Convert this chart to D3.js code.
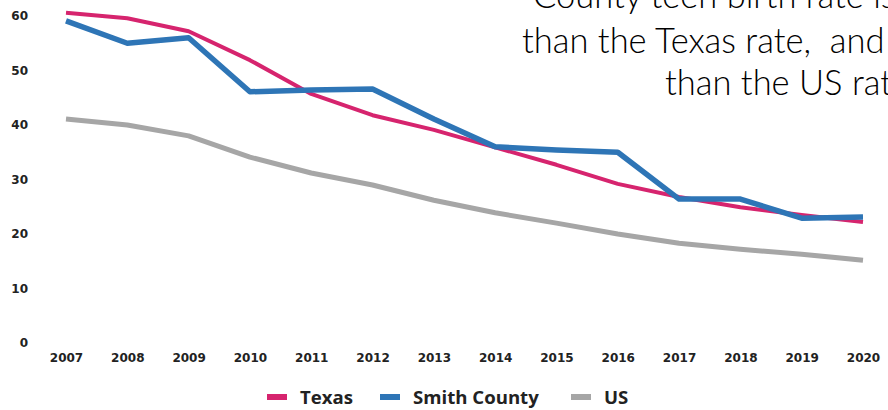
<!DOCTYPE html>
<html>
<head>
<meta charset="utf-8">
<script src="https://d3js.org/d3.v7.min.js"></script>
<style>
  body { margin: 0; background: #fff; overflow: hidden; }
  svg { display: block; }
</style>
</head>
<body>
<svg width="888" height="410"></svg>
<script>
// Data
const years = [2007, 2008, 2009, 2010, 2011, 2012, 2013, 2014, 2015, 2016, 2017, 2018, 2019, 2020];
const texas = [60.6, 59.6, 57.2, 51.9, 45.7, 41.8, 39.1, 35.9, 32.7, 29.2, 26.8, 24.9, 23.5, 22.2];
const smith = [59.1, 55.0, 56.0, 46.1, 46.4, 46.6, 41.1, 36.0, 35.4, 35.0, 26.4, 26.4, 22.9, 23.1];
const us = [41.1, 40.0, 38.0, 34.1, 31.2, 29.0, 26.2, 23.9, 22.0, 20.0, 18.3, 17.2, 16.3, 15.2];
const yTicks = [0, 10, 20, 30, 40, 50, 60];
const seriesNames = ["Texas", "Smith County", "US"];
const titleLines = ["County teen birth rate is", "than the Texas rate,  and", "than the US rate"];

const svg = d3.select("svg"),
  width = +svg.attr("width"),
  height = +svg.attr("height");

const colors = { "Texas": "#d6246e", "Smith County": "#2e75b6", "US": "#a6a6a6" };
const widths = { "Texas": 4, "Smith County": 5.5, "US": 5 };

// Scales
const x = d3.scalePoint().domain(years).range([66, 863]);
const y = d3.scaleLinear().domain([0, 60]).range([343, 16]);

// title text (clipped by the frame like the source)
const titleX = [533, 522, 665];
const titleY = [8, 53, 95];
svg.selectAll(".title")
  .data(titleLines)
  .join("text")
  .attr("class", "title")
  .attr("x", (d, i) => titleX[i])
  .attr("y", (d, i) => titleY[i])
  .style("font-family", "Lato, 'Open Sans', sans-serif")
  .style("font-weight", 300)
  .style("font-size", "34.5px")
  .style("white-space", "pre")
  .attr("fill", "#000")
  .text(d => d);

// Y axis
const yAxis = svg.append("g")
  .attr("transform", "translate(28,0)")
  .call(d3.axisLeft(y).tickValues(yTicks).tickSize(0).tickPadding(0));
yAxis.select(".domain").remove();
yAxis.selectAll("text")
  .style("font-family", "'DejaVu Sans', sans-serif")
  .style("font-weight", "bold")
  .style("font-size", "12px")
  .attr("fill", "#222");

// X axis
const xAxis = svg.append("g")
  .attr("transform", "translate(0,353)")
  .call(d3.axisBottom(x).tickSize(0).tickPadding(0));
xAxis.select(".domain").remove();
xAxis.selectAll("text")
  .style("font-family", "'DejaVu Sans', sans-serif")
  .style("font-weight", "bold")
  .style("font-size", "12px")
  .attr("fill", "#222");

// Lines
const line = d3.line()
  .x((d, i) => x(years[i]))
  .y(d => y(d));

const series = [
  { name: "US", values: us },
  { name: "Texas", values: texas },
  { name: "Smith County", values: smith }
];

svg.selectAll(".series")
  .data(series)
  .join("path")
  .attr("class", "series")
  .attr("d", d => line(d.values))
  .attr("fill", "none")
  .attr("stroke", d => colors[d.name])
  .attr("stroke-width", d => widths[d.name])
  .attr("stroke-linejoin", "round");

// Legend
const legendX = [267, 380, 571];
const legend = svg.append("g").attr("class", "legend");
const items = legend.selectAll(".legend-item")
  .data(seriesNames)
  .join("g")
  .attr("class", "legend-item")
  .attr("transform", (d, i) => `translate(${legendX[i]}, 397)`);

items.append("rect")
  .attr("y", -3)
  .attr("width", 20)
  .attr("height", 6)
  .attr("fill", d => colors[d]);

items.append("text")
  .attr("x", 33)
  .attr("y", 7)
  .style("font-family", "'Open Sans', sans-serif")
  .style("font-weight", "bold")
  .style("font-size", "18.6px")
  .attr("fill", "#222")
  .text(d => d);
</script>
</body>
</html>
